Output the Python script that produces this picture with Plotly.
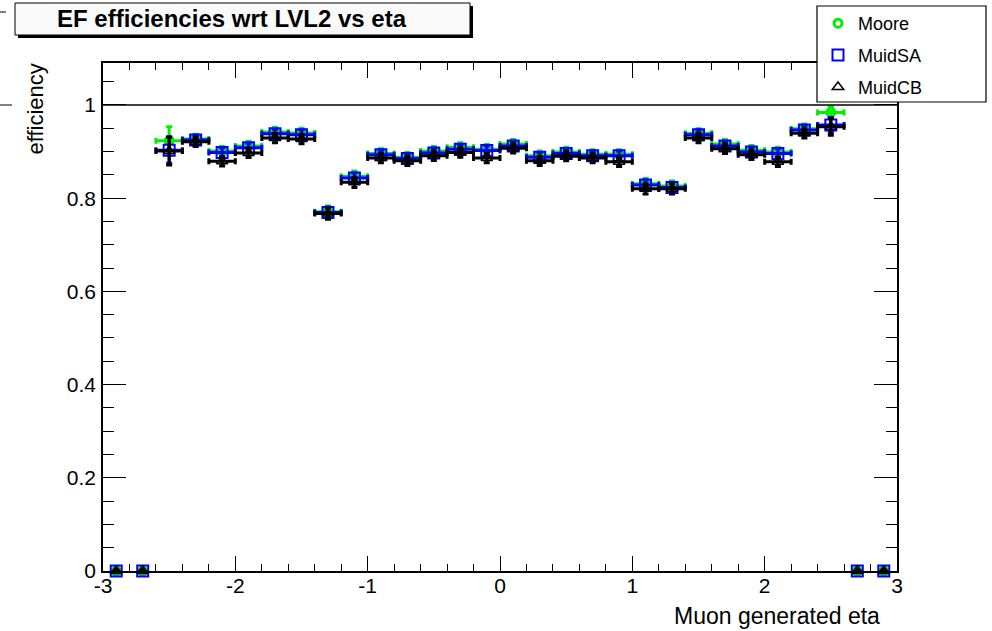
import plotly.graph_objects as go

# ---- data ----
eta = [-2.9, -2.7, -2.5, -2.3, -2.1, -1.9, -1.7, -1.5, -1.3, -1.1,
       -0.9, -0.7, -0.5, -0.3, -0.1, 0.1, 0.3, 0.5, 0.7, 0.9,
       1.1, 1.3, 1.5, 1.7, 1.9, 2.1, 2.3, 2.5, 2.7, 2.9]
eta_halfwidth = [0, 0, 0.1, 0.1, 0.1, 0.1, 0.1, 0.1, 0.1, 0.1,
                 0.1, 0.1, 0.1, 0.1, 0.1, 0.1, 0.1, 0.1, 0.1, 0.1,
                 0.1, 0.1, 0.1, 0.1, 0.1, 0.1, 0.1, 0.1, 0, 0]

moore = [0, 0, 0.923, 0.927, 0.901, 0.912, 0.942, 0.940, 0.771, 0.847,
         0.896, 0.888, 0.901, 0.909, 0.905, 0.916, 0.891, 0.899, 0.894, 0.894,
         0.831, 0.826, 0.939, 0.916, 0.903, 0.899, 0.949, 0.984, 0, 0]
moore_err = [0, 0, 0.030, 0.010, 0.010, 0.010, 0.010, 0.010, 0.012, 0.011,
             0.010, 0.010, 0.010, 0.010, 0.010, 0.010, 0.010, 0.010, 0.010, 0.010,
             0.011, 0.011, 0.010, 0.010, 0.010, 0.010, 0.010, 0.012, 0, 0]

muidsa = [0, 0, 0.903, 0.925, 0.898, 0.908, 0.938, 0.936, 0.769, 0.843,
          0.893, 0.885, 0.897, 0.905, 0.902, 0.912, 0.888, 0.896, 0.891, 0.891,
          0.828, 0.823, 0.936, 0.912, 0.899, 0.896, 0.946, 0.957, 0, 0]
muidsa_err = [0, 0, 0.028, 0.010, 0.010, 0.010, 0.010, 0.010, 0.012, 0.011,
              0.010, 0.010, 0.010, 0.010, 0.010, 0.010, 0.010, 0.010, 0.010, 0.010,
              0.011, 0.011, 0.010, 0.010, 0.010, 0.010, 0.010, 0.016, 0, 0]

muidcb = [0, 0, 0.901, 0.921, 0.879, 0.897, 0.929, 0.927, 0.767, 0.834,
          0.886, 0.880, 0.891, 0.898, 0.886, 0.907, 0.880, 0.890, 0.886, 0.878,
          0.820, 0.820, 0.929, 0.906, 0.893, 0.878, 0.939, 0.953, 0, 0]
muidcb_err = [0, 0, 0.030, 0.010, 0.010, 0.010, 0.010, 0.010, 0.012, 0.011,
              0.010, 0.010, 0.010, 0.010, 0.010, 0.010, 0.010, 0.010, 0.010, 0.010,
              0.011, 0.011, 0.010, 0.010, 0.010, 0.010, 0.010, 0.018, 0, 0]

x_tick_vals = [-3, -2, -1, 0, 1, 2, 3]
x_tick_text = ["-3", "-2", "-1", "0", "1", "2", "3"]
y_tick_vals = [0, 0.2, 0.4, 0.6, 0.8, 1.0]
y_tick_text = ["0", "0.2", "0.4", "0.6", "0.8", "1"]

title_text = "EF efficiencies wrt LVL2 vs eta"
x_title = "Muon generated eta"
y_title = "efficiency"

FONT = "Liberation Sans, Arial, Helvetica, sans-serif"

# ---- figure geometry (pixels) ----
W, H = 992, 631
L, R, T, B = 103, 95, 63, 60
PW, PH = W - L - R, H - T - B


def px(xp):
    return (xp - L) / PW


def py(yp):
    return (H - B - yp) / PH


fig = go.Figure()

series = [
    ("Moore", moore, moore_err, "#00ee00",
     dict(symbol="circle-open", size=8, line=dict(width=3, color="#00ee00"))),
    ("MuidSA", muidsa, muidsa_err, "#0000ff",
     dict(symbol="square-open", size=11, line=dict(width=2, color="#0000ff"))),
    ("MuidCB", muidcb, muidcb_err, "#000000",
     dict(symbol="triangle-up-open", size=10, line=dict(width=1.5, color="#000000"))),
]

for name, vals, errs, col, mk in series:
    fig.add_trace(go.Scatter(
        x=eta, y=vals, mode="markers", name=name, legendgroup=name,
        marker=dict(color=col, **mk),
        error_x=dict(type="data", array=eta_halfwidth, color=col,
                     thickness=3, width=3),
        error_y=dict(type="data", array=errs, color=col,
                     thickness=3, width=3),
        cliponaxis=False,
    ))

shapes = [
    # line at efficiency = 1
    dict(type="line", xref="x", yref="y", x0=-3, x1=3, y0=1, y1=1,
         line=dict(color="black", width=1.5)),
    # title box shadow + box
    dict(type="rect", xref="paper", yref="paper",
         x0=px(18), x1=px(473), y0=py(38), y1=py(6),
         fillcolor="black", line=dict(width=0), layer="above"),
    dict(type="rect", xref="paper", yref="paper",
         x0=px(15), x1=px(470), y0=py(35), y1=py(3),
         fillcolor="#fafafa", line=dict(color="black", width=1), layer="above"),
    # legend box
    dict(type="rect", xref="paper", yref="paper",
         x0=px(817), x1=px(986), y0=py(102), y1=py(6),
         fillcolor="white", line=dict(color="black", width=1.2), layer="above"),
    # small stray dashes at the left edge (from neighbouring pad)
    dict(type="line", xref="paper", yref="paper",
         x0=px(0), x1=px(12), y0=py(105), y1=py(105),
         line=dict(color="black", width=1)),
    dict(type="line", xref="paper", yref="paper",
         x0=px(0), x1=px(6), y0=py(12), y1=py(12),
         line=dict(color="black", width=1)),
]

annotations = [
    dict(text="<b>" + title_text + "</b>", xref="paper", yref="paper",
         x=px(232), y=py(19), xanchor="center", yanchor="middle",
         showarrow=False, font=dict(family=FONT, size=24, color="black")),
    dict(text=x_title, xref="paper", yref="paper",
         x=px(882), y=py(616), xanchor="right", yanchor="middle",
         showarrow=False, font=dict(family=FONT, size=23, color="black")),
    dict(text=y_title, xref="paper", yref="paper", textangle=-90,
         x=px(35), y=py(62), xanchor="center", yanchor="top",
         showarrow=False, font=dict(family=FONT, size=22, color="black")),
]

fig.update_layout(
    width=W, height=H,
    margin=dict(l=L, r=R, t=T, b=B, pad=0, autoexpand=False),
    paper_bgcolor="white", plot_bgcolor="white",
    font=dict(family=FONT, size=21, color="black"),
    shapes=shapes, annotations=annotations,
    showlegend=True,
    legend=dict(x=px(818), y=py(5), xanchor="left", yanchor="top",
                bgcolor="rgba(0,0,0,0)", borderwidth=0,
                traceorder="grouped", tracegroupgap=5.5,
                font=dict(family=FONT, size=18, color="black")),
    xaxis=dict(range=[-3, 3], tickmode="array", tickvals=x_tick_vals,
               ticktext=x_tick_text, ticks="inside", ticklen=15,
               tickwidth=1, tickcolor="black", ticklabelstandoff=-5,
               minor=dict(dtick=0.2, tick0=-3, ticks="inside", ticklen=7,
                          tickcolor="black", tickwidth=1),
               showline=True, linecolor="black", linewidth=1.5,
               mirror="allticks", showgrid=False, zeroline=False,
               tickfont=dict(family=FONT, size=21, color="black")),
    yaxis=dict(range=[0, 1.09], tickmode="array", tickvals=y_tick_vals,
               ticktext=y_tick_text, ticks="inside", ticklen=23,
               tickwidth=1, tickcolor="black", ticklabelstandoff=1,
               minor=dict(dtick=0.05, tick0=0, ticks="inside", ticklen=11,
                          tickcolor="black", tickwidth=1),
               showline=True, linecolor="black", linewidth=1.5,
               mirror="allticks", showgrid=False, zeroline=False,
               tickfont=dict(family=FONT, size=21, color="black")),
)

fig.write_html("out.html")
